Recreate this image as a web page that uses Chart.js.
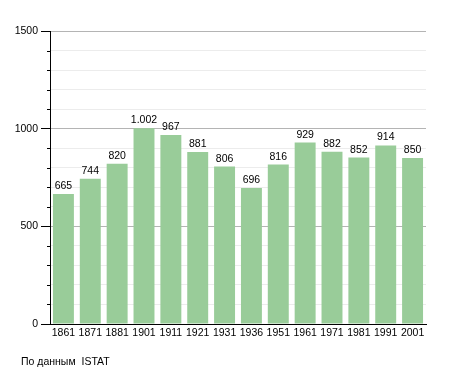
<!DOCTYPE html>
<html>
<head>
<meta charset="utf-8">
<script src="https://cdn.jsdelivr.net/npm/chart.js@4/dist/chart.umd.min.js"></script>
<style>
  html, body { margin: 0; padding: 0; background: #fff; }
  #wrap { position: relative; width: 455px; height: 373px; }
  #note { position: absolute; left: 21px; top: 355px; font: 10.5px "Liberation Sans", Arial, sans-serif; color: #000; white-space: pre; }
</style>
</head>
<body>
<div id="wrap">
  <canvas id="chart" width="455" height="373"></canvas>
  <div id="note">По данным  ISTAT</div>
</div>
<script>
'use strict';

// Population by census year
const years = ['1861', '1871', '1881', '1901', '1911', '1921', '1931', '1936', '1951', '1961', '1971', '1981', '1991', '2001'];
const population = [665, 744, 820, 1002, 967, 881, 806, 696, 816, 929, 882, 852, 914, 850];
const yMajorTicks = [0, 500, 1000, 1500];

const FONT = { family: '"Liberation Sans", Arial, sans-serif', size: 10.5 };

// Italian-style thousands separator ("1.002")
function formatValue(v) {
  return String(v).replace(/\B(?=(\d{3})+(?!\d))/g, '.');
}

// Value labels above the bars and short minor ticks on the y axis
const extrasPlugin = {
  id: 'extras',
  afterDatasetsDraw(chart) {
    const ctx = chart.ctx;
    const meta = chart.getDatasetMeta(0);
    ctx.save();
    ctx.font = FONT.size + 'px ' + FONT.family;
    ctx.fillStyle = '#000';
    ctx.textAlign = 'center';
    ctx.textBaseline = 'alphabetic';
    meta.data.forEach((bar, i) => {
      ctx.fillText(formatValue(population[i]), bar.x, bar.y - 5);
    });

    const yScale = chart.scales.y;
    const x0 = chart.chartArea.left;
    ctx.strokeStyle = '#000';
    ctx.lineWidth = 1;
    yScale.ticks.forEach(t => {
      if (yMajorTicks.includes(t.value)) return;
      const y = Math.round(yScale.getPixelForValue(t.value)) + 0.5;
      ctx.beginPath();
      ctx.moveTo(x0 - 3, y);
      ctx.lineTo(x0, y);
      ctx.stroke();
    });
    ctx.restore();
  }
};

new Chart(document.getElementById('chart'), {
  type: 'bar',
  data: {
    labels: years,
    datasets: [{
      data: population,
      backgroundColor: 'rgb(153, 204, 153)',
      borderWidth: 0,
      barPercentage: 0.78,
      categoryPercentage: 1
    }]
  },
  options: {
    responsive: false,
    animation: false,
    layout: { padding: { top: 31, right: 29, left: 0, bottom: 0 } },
    plugins: {
      legend: { display: false },
      tooltip: { enabled: false }
    },
    scales: {
      x: {
        afterFit(scale) { scale.height = 49; },
        grid: { display: false, drawTicks: false },
        border: { color: '#000', width: 1 },
        ticks: { color: '#000', font: FONT, padding: 3, maxRotation: 0, autoSkip: false }
      },
      y: {
        min: 0,
        max: 1500,
        afterFit(scale) { scale.width = 50; },
        border: { color: '#000', width: 1 },
        grid: {
          color: c => (c.tick && c.tick.value % 500 === 0) ? '#b4b4b4' : '#ececec',
          tickColor: c => (c.tick && c.tick.value % 500 === 0) ? '#000' : 'rgba(0,0,0,0)',
          tickLength: 9,
          lineWidth: 1
        },
        ticks: {
          stepSize: 100,
          color: '#000',
          font: FONT,
          padding: 3,
          autoSkip: false,
          callback: v => yMajorTicks.includes(v) ? String(v) : ''
        }
      }
    }
  },
  plugins: [extrasPlugin]
});
</script>
</body>
</html>
